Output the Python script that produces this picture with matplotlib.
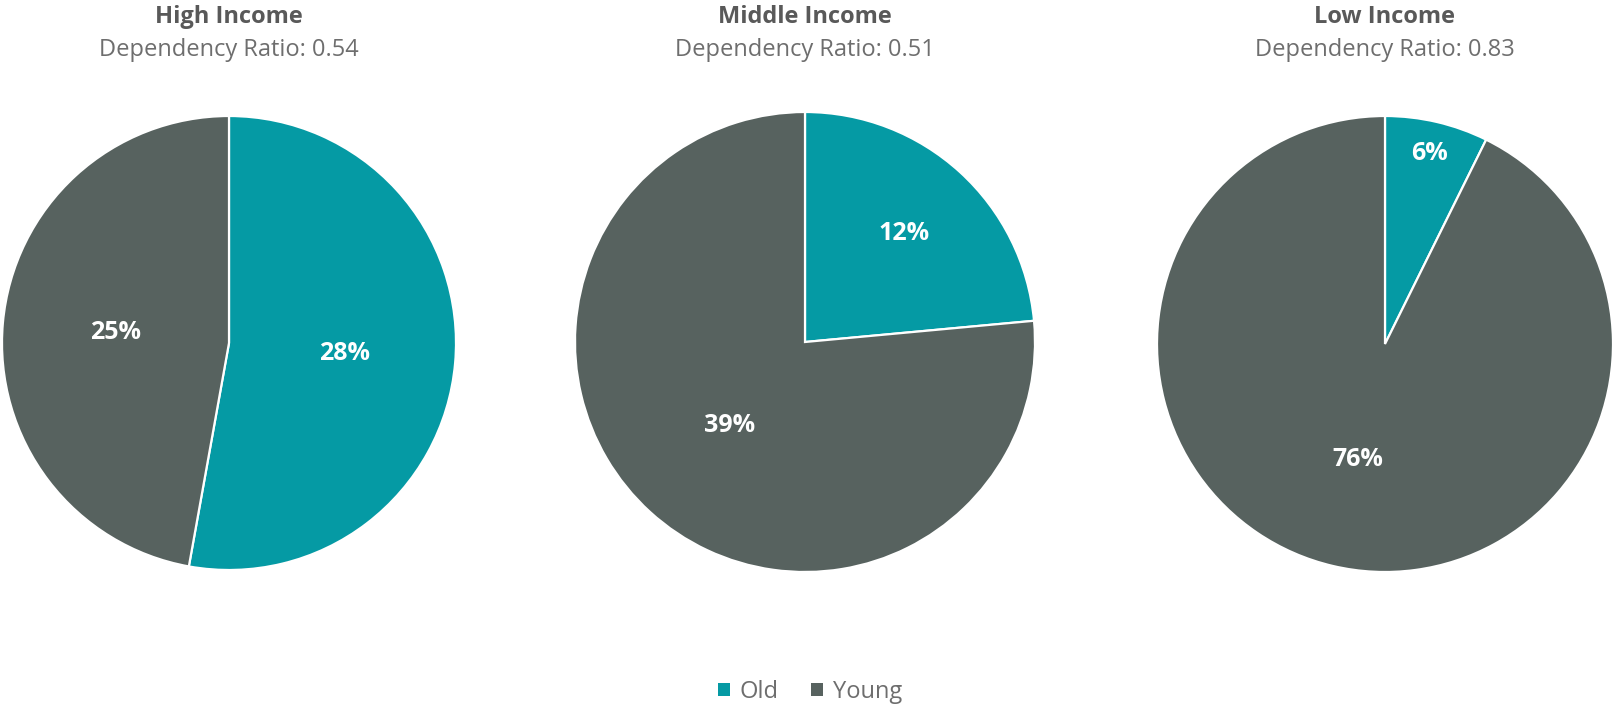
import numpy as np
import matplotlib
matplotlib.use("Agg")
import matplotlib.pyplot as plt
from matplotlib.patches import Patch

plt.rcParams['font.family'] = ['Open Sans', 'DejaVu Sans']

# data
groups = ['High Income', 'Middle Income', 'Low Income']
ratios = [0.54, 0.51, 0.83]
old_share = [28, 12, 6]
young_share = [25, 39, 76]
series = ['Old', 'Young']

colors = ['#059aa4', '#57625f']
W, H = 1613, 707

# pie centre / radius in pixels, and label distance per wedge
layout = [(229, 343, 227), (805, 342, 230), (1385, 344, 228)]
label_dist = [(0.51, 0.50), (0.64, 0.49), (0.86, 0.52)]

fig = plt.figure(figsize=(W / 100, H / 100), dpi=100)

for i, name in enumerate(groups):
    cx, cy, r = layout[i]
    ax = fig.add_axes([(cx - r) / W, 1 - (cy + r) / H, 2 * r / W, 2 * r / H])
    vals = [old_share[i], young_share[i]]
    wedges, _ = ax.pie(vals, colors=colors, startangle=90, counterclock=False,
                       radius=1, wedgeprops=dict(edgecolor='white', linewidth=1.6))
    for w in wedges:
        w.set_clip_on(False)
    total = sum(vals)
    start = 90.0
    for v, d in zip(vals, label_dist[i]):
        sweep = v / total * 360
        mid = np.deg2rad(start - sweep / 2)
        ax.text(d * np.cos(mid), d * np.sin(mid), f'{v}%', ha='center', va='center',
                color='white', fontsize=18, fontweight='bold')
        start -= sweep
    ax.set_xlim(-1, 1)
    ax.set_ylim(-1, 1)
    ax.axis('off')

    fig.text(cx / W, 1 - 17 / H, name, ha='center', va='center',
             fontsize=17, fontweight='bold', color='#595959')
    fig.text(cx / W, 1 - 50 / H, f'Dependency Ratio: {ratios[i]:.2f}', ha='center',
             va='center', fontsize=17, color='#6e6e6e')

handles = [Patch(facecolor=c, edgecolor='none') for c in colors]
fig.legend(handles, series, loc='center', bbox_to_anchor=(810 / W, 1 - 692 / H),
           ncol=2, frameon=False, fontsize=17, labelcolor='#6e6e6e',
           handlelength=0.5, handleheight=0.5, handletextpad=0.4, columnspacing=1.4)

fig.savefig('out.png', dpi=100, facecolor='white')
